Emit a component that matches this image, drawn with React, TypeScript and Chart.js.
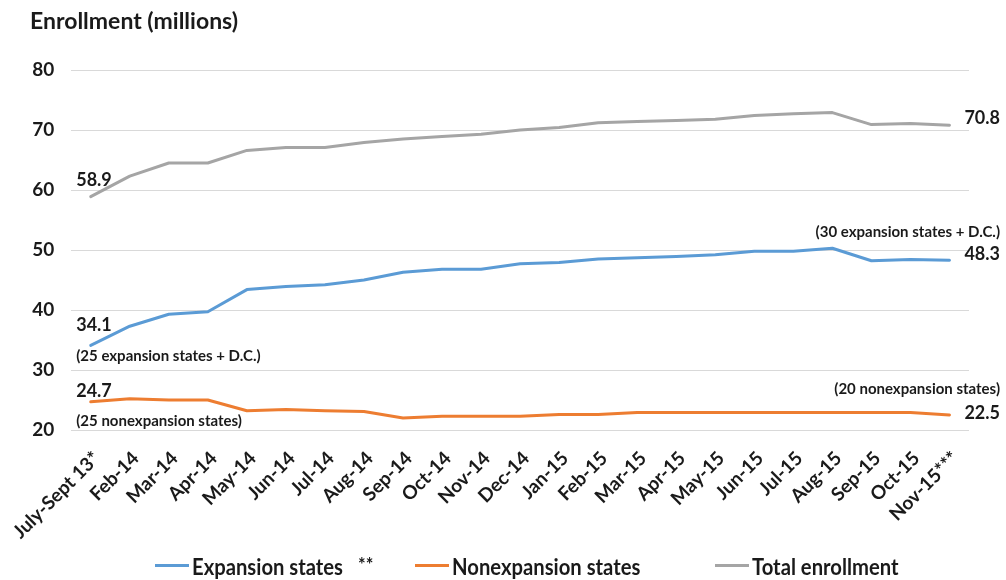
import React, { useEffect, useRef } from "react";
import { Chart, registerables } from "chart.js";

Chart.register(...registerables);

// Monthly Medicaid/CHIP enrollment, millions
const months = [
  "July-Sept 13*", "Feb-14", "Mar-14", "Apr-14", "May-14", "Jun-14", "Jul-14", "Aug-14",
  "Sep-14", "Oct-14", "Nov-14", "Dec-14", "Jan-15", "Feb-15", "Mar-15", "Apr-15",
  "May-15", "Jun-15", "Jul-15", "Aug-15", "Sep-15", "Oct-15", "Nov-15***",
];

const expansionStates = [
  34.1, 37.3, 39.3, 39.7, 43.4, 43.9, 44.2, 45.0, 46.3, 46.8, 46.8, 47.7,
  47.9, 48.5, 48.7, 48.9, 49.2, 49.8, 49.8, 50.3, 48.2, 48.4, 48.3,
];

const nonexpansionStates = [
  24.7, 25.2, 25.0, 25.0, 23.2, 23.4, 23.2, 23.1, 22.0, 22.3, 22.3, 22.3,
  22.6, 22.6, 22.9, 22.9, 22.9, 22.9, 22.9, 22.9, 22.9, 22.9, 22.5,
];

const totalEnrollment = [
  58.9, 62.3, 64.5, 64.5, 66.6, 67.1, 67.1, 67.9, 68.5, 68.9, 69.3, 70.0,
  70.4, 71.2, 71.4, 71.6, 71.8, 72.4, 72.7, 72.9, 70.9, 71.1, 70.8,
];

const yTicks = [20, 30, 40, 50, 60, 70, 80];

const seriesNames = ["Expansion states", "Nonexpansion states", "Total enrollment"];
const seriesMarks = ["**", "", ""];
const startNotes = ["(25 expansion states + D.C.)", "(25 nonexpansion states)"];
const endNotes = ["(30 expansion states + D.C.)", "(20 nonexpansion states)"];

const BLUE = "#5b9bd5";
const ORANGE = "#ed7d31";
const GRAY = "#a5a5a5";
const INK = "#1a1a1a";
const FONT = "Lato, 'DejaVu Sans', sans-serif";

// text whose cap height is centred on cy
function capText(
  ctx: CanvasRenderingContext2D,
  text: string,
  font: string,
  size: number,
  x: number,
  cy: number,
  align: CanvasTextAlign
) {
  ctx.font = font;
  ctx.textAlign = align;
  ctx.textBaseline = "alphabetic";
  ctx.fillText(text, x, cy + size * 0.36);
}

const notesPlugin = {
  id: "enrollmentNotes",
  afterDraw(chart: any) {
    const { ctx, chartArea, scales } = chart;
    const y = scales.y;
    const last = months.length - 1;
    const left = chartArea.left + 5;
    const right = chart.width - 6;
    const numFont = `bold 18px ${FONT}`;
    const noteFont = `bold 15px ${FONT}`;

    ctx.save();
    ctx.fillStyle = INK;

    // axis title
    ctx.font = `bold 23px ${FONT}`;
    ctx.textAlign = "left";
    ctx.textBaseline = "alphabetic";
    ctx.fillText("Enrollment (millions)", 30, 29);

    // start-of-period values
    capText(ctx, totalEnrollment[0].toFixed(1), numFont, 18, left, y.getPixelForValue(totalEnrollment[0]) - 17, "left");
    capText(ctx, expansionStates[0].toFixed(1), numFont, 18, left, y.getPixelForValue(expansionStates[0]) - 21, "left");
    capText(ctx, startNotes[0], noteFont, 15, left, y.getPixelForValue(expansionStates[0]) + 10, "left");
    capText(ctx, nonexpansionStates[0].toFixed(1), numFont, 18, left, y.getPixelForValue(nonexpansionStates[0]) - 11, "left");
    capText(ctx, startNotes[1], noteFont, 15, left, y.getPixelForValue(nonexpansionStates[0]) + 19, "left");

    // end-of-period values
    capText(ctx, totalEnrollment[last].toFixed(1), numFont, 18, right, y.getPixelForValue(totalEnrollment[last]) - 8, "right");
    capText(ctx, endNotes[0], noteFont, 15, right, y.getPixelForValue(expansionStates[last]) - 29, "right");
    capText(ctx, expansionStates[last].toFixed(1), numFont, 18, right, y.getPixelForValue(expansionStates[last]) - 7, "right");
    capText(ctx, endNotes[1], noteFont, 15, right, y.getPixelForValue(nonexpansionStates[last]) - 26, "right");
    capText(ctx, nonexpansionStates[last].toFixed(1), numFont, 18, right, y.getPixelForValue(nonexpansionStates[last]) - 2.5, "right");

    // legend
    const legendStarts = [155, 415, 715];
    const lineY = 565.5;
    const baseY = 575;
    ctx.font = `bold 22px ${FONT}`;
    const squeeze = 151 / ctx.measureText(seriesNames[0]).width;
    chart.data.datasets.forEach((ds: any, i: number) => {
      const x0 = legendStarts[i];
      ctx.fillStyle = ds.borderColor;
      ctx.fillRect(x0, lineY - 1.5, 34, 3);
      ctx.fillStyle = INK;
      ctx.font = `bold 22px ${FONT}`;
      ctx.textAlign = "left";
      ctx.textBaseline = "alphabetic";
      const tx = x0 + 37;
      ctx.save();
      ctx.translate(tx, baseY);
      ctx.scale(squeeze, 1);
      ctx.fillText(ds.label, 0, 0);
      ctx.restore();
      if (seriesMarks[i]) {
        const w = ctx.measureText(ds.label).width * squeeze;
        ctx.font = `bold 18px ${FONT}`;
        ctx.fillText(seriesMarks[i], tx + w + 15, baseY - 4);
      }
    });

    ctx.restore();
  },
};

export default function App() {
  const canvasRef = useRef<HTMLCanvasElement | null>(null);

  useEffect(() => {
    const canvas = canvasRef.current;
    if (!canvas) return;
    const line = (label: string, data: number[], color: string) => ({
      label,
      data,
      borderColor: color,
      backgroundColor: color,
      borderWidth: 3,
      pointRadius: 0,
      pointHoverRadius: 0,
      tension: 0,
      borderJoinStyle: "round" as const,
      borderCapStyle: "round" as const,
    });

    const chart = new Chart(canvas, {
      type: "line",
      data: {
        labels: months,
        datasets: [
          line(seriesNames[0], expansionStates, BLUE),
          line(seriesNames[1], nonexpansionStates, ORANGE),
          line(seriesNames[2], totalEnrollment, GRAY),
        ],
      },
      options: {
        responsive: false,
        animation: false,
        devicePixelRatio: 1,
        layout: { padding: { left: 0, right: 37, top: 70, bottom: 0 } },
        plugins: {
          legend: { display: false },
          title: { display: false },
          tooltip: { enabled: false },
        },
        scales: {
          x: {
            type: "category",
            offset: true,
            grid: { display: false },
            border: { display: false },
            ticks: {
              autoSkip: false,
              maxRotation: 45,
              minRotation: 45,
              padding: 9,
              labelOffset: 6,
              color: INK,
              font: { family: FONT, size: 19, weight: "bold" },
            },
            afterFit: (s: any) => {
              s.height = 150;
            },
          },
          y: {
            min: 20,
            max: 80,
            grid: { color: "#d9d9d9", lineWidth: 1, drawTicks: false },
            border: { display: false },
            ticks: {
              padding: 17,
              color: INK,
              font: { family: FONT, size: 19, weight: "bold" },
            },
            afterBuildTicks: (s: any) => {
              s.ticks = yTicks.map((v) => ({ value: v }));
            },
            afterFit: (s: any) => {
              s.width = 70;
            },
          },
        },
      },
      plugins: [notesPlugin],
    });

    return () => chart.destroy();
  }, []);

  return (
    <div style={{ position: "fixed", left: 0, top: 0, width: 1006, height: 580, background: "#fff" }}>
      <canvas ref={canvasRef} width={1006} height={580} />
    </div>
  );
}
